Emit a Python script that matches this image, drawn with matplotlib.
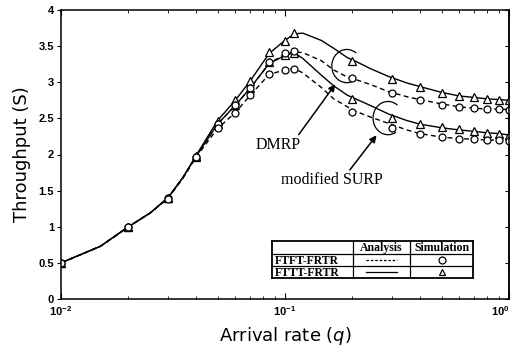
import matplotlib
matplotlib.use("Agg")
import matplotlib.pyplot as plt
import matplotlib.ticker as ticker
from matplotlib.patches import Arc
from matplotlib.lines import Line2D

# simulation points
sim_q = [0.01, 0.02, 0.03, 0.04, 0.05, 0.06, 0.07, 0.085, 0.1, 0.11,
         0.2, 0.3, 0.4, 0.5, 0.6, 0.7, 0.8, 0.9, 1.0]
sim_dmrp_fttt = [0.5, 1.0, 1.4, 1.98, 2.47, 2.75, 3.02, 3.42, 3.57, 3.68,
                 3.30, 3.05, 2.94, 2.85, 2.81, 2.79, 2.77, 2.76, 2.75]
sim_dmrp_ftft = [0.5, 1.0, 1.4, 1.97, 2.42, 2.68, 2.92, 3.28, 3.40, 3.43,
                 3.06, 2.85, 2.76, 2.69, 2.66, 2.64, 2.63, 2.63, 2.62]
sim_surp_fttt = [0.5, 1.0, 1.4, 1.97, 2.42, 2.68, 2.92, 3.28, 3.38, 3.41,
                 2.77, 2.51, 2.42, 2.38, 2.35, 2.32, 2.30, 2.29, 2.27]
sim_surp_ftft = [0.5, 1.0, 1.39, 1.96, 2.36, 2.58, 2.82, 3.12, 3.17, 3.19,
                 2.59, 2.37, 2.29, 2.24, 2.22, 2.21, 2.20, 2.20, 2.19]

# analysis curves
an_q = [0.01, 0.015, 0.02, 0.025, 0.03, 0.035, 0.04, 0.05, 0.06, 0.07, 0.085,
        0.1, 0.11, 0.12, 0.145, 0.165, 0.19, 0.21, 0.24, 0.29, 0.35, 0.4,
        0.5, 0.6, 0.7, 0.8, 0.9, 1.0]
an_dmrp_fttt = [0.5, 0.73, 1.0, 1.19, 1.4, 1.68, 1.98, 2.47, 2.75, 3.02, 3.40,
                3.58, 3.67, 3.68, 3.58, 3.47, 3.34, 3.28, 3.19, 3.08, 2.99, 2.94,
                2.86, 2.81, 2.79, 2.77, 2.76, 2.75]
an_dmrp_ftft = [0.5, 0.73, 1.0, 1.19, 1.4, 1.68, 1.97, 2.42, 2.68, 2.92, 3.26,
                3.39, 3.42, 3.41, 3.30, 3.17, 3.07, 3.03, 2.97, 2.87, 2.80, 2.76,
                2.70, 2.66, 2.64, 2.63, 2.63, 2.62]
an_surp_fttt = [0.5, 0.73, 1.0, 1.19, 1.4, 1.68, 1.97, 2.42, 2.68, 2.92, 3.26,
                3.37, 3.41, 3.33, 3.10, 2.95, 2.82, 2.76, 2.68, 2.56, 2.47, 2.42,
                2.37, 2.34, 2.32, 2.30, 2.29, 2.27]
an_surp_ftft = [0.5, 0.73, 1.0, 1.19, 1.39, 1.67, 1.96, 2.36, 2.58, 2.82, 3.11,
                3.17, 3.19, 3.13, 2.93, 2.77, 2.66, 2.59, 2.52, 2.43, 2.34, 2.29,
                2.24, 2.22, 2.21, 2.20, 2.20, 2.19]

yticks = [0, 0.5, 1, 1.5, 2, 2.5, 3, 3.5, 4]
xticks = [0.01, 0.1, 1.0]
xticklabels = [r"$\mathdefault{10^{-2}}$", r"$\mathdefault{10^{-1}}$", r"$\mathdefault{10^{0}}$"]

dash = (3.5, 2.5)
serif = "Liberation Serif"
sans = "Liberation Sans"

fig = plt.figure(figsize=(5.11, 3.54), dpi=100)
ax = fig.add_axes([61/511, 55/354, 448/511, 289/354])

ax.plot(an_q, an_dmrp_fttt, color="k", lw=1.0)
ax.plot(an_q, an_surp_fttt, color="k", lw=1.0)
ax.plot(an_q, an_dmrp_ftft, color="k", lw=1.0, dashes=dash)
ax.plot(an_q, an_surp_ftft, color="k", lw=1.0, dashes=dash)

for ys in (sim_dmrp_fttt, sim_surp_fttt):
    ax.plot(sim_q, ys, ls="none", marker="^", ms=5.5, mfc="white", mec="k", mew=0.9)
for ys in (sim_dmrp_ftft, sim_surp_ftft):
    ax.plot(sim_q, ys, ls="none", marker="o", ms=5, mfc="white", mec="k", mew=0.9)

ax.set_xscale("log")
ax.set_xlim(0.01, 1.0)
ax.set_ylim(0, 4)
ax.set_yticks(yticks)
ax.yaxis.set_major_formatter(ticker.FormatStrFormatter("%g"))
ax.set_xticks(xticks, xticklabels)
ax.xaxis.set_minor_locator(ticker.LogLocator(base=10, subs=range(2, 10)))
ax.xaxis.set_minor_formatter(ticker.NullFormatter())

for s in ax.spines.values():
    s.set_linewidth(1.1)

ax.tick_params(axis="x", which="both", direction="in", top=True, labelsize=8, pad=4)
ax.tick_params(axis="x", which="major", length=4)
ax.tick_params(axis="x", which="minor", length=2.5)
ax.tick_params(axis="y", direction="out", length=3, labelsize=8, pad=2)
for lab in ax.get_xticklabels() + ax.get_yticklabels():
    lab.set_fontweight("bold")
    lab.set_family(sans)
ax.get_xticklabels()[-1].set_horizontalalignment("right")

sec = ax.secondary_yaxis("right")
sec.set_yticks(yticks)
sec.tick_params(direction="in", length=3, labelright=False)
sec.spines["right"].set_linewidth(1.1)

ax.set_ylabel("Throughput (S)", family="DejaVu Sans", fontsize=13, labelpad=5)
ax.set_xlabel("Arrival rate ($q$)", family="DejaVu Sans", fontsize=13, labelpad=5)

# annotations
ax.add_patch(Arc((0.638, 0.806), 0.067, 0.115, theta1=65, theta2=290,
                 transform=ax.transAxes, color="k", lw=0.9))
ax.add_patch(Arc((0.730, 0.626), 0.067, 0.115, theta1=65, theta2=290,
                 transform=ax.transAxes, color="k", lw=0.9))
ax.annotate("", xy=(0.616, 0.751), xytext=(0.527, 0.561), xycoords="axes fraction",
            arrowprops=dict(arrowstyle="-|>", color="k", lw=1.1, mutation_scale=10))
ax.annotate("", xy=(0.708, 0.574), xytext=(0.641, 0.439), xycoords="axes fraction",
            arrowprops=dict(arrowstyle="-|>", color="k", lw=1.1, mutation_scale=10))
ax.text(0.484, 0.533, "DMRP", transform=ax.transAxes, family=serif, fontsize=11.5,
        ha="center", va="center")
ax.text(0.605, 0.412, "modified SURP", transform=ax.transAxes, family=serif,
        fontsize=11.5, ha="center", va="center")

# legend table
tb = fig.add_axes([272/511, (354-278)/354, 201/511, 37/354])
tb.set_xlim(0, 1)
tb.set_ylim(0, 1)
tb.axis("off")
c1, c2 = 0.403, 0.687
r1, r2 = 0.65, 0.32
for x in (0, 1):
    tb.add_line(Line2D([x, x], [0, 1], color="k", lw=1.3, clip_on=False))
for y in (0, 1):
    tb.add_line(Line2D([0, 1], [y, y], color="k", lw=1.3, clip_on=False))
for x in (c1, c2):
    tb.add_line(Line2D([x, x], [0, 1], color="k", lw=0.9))
for y in (r1, r2):
    tb.add_line(Line2D([0, 1], [y, y], color="k", lw=0.9))
tkw = dict(family=serif, fontsize=8.5, fontweight="bold", va="center")
tb.text((c1+c2)/2, (r1+1)/2 - 0.02, "Analysis", ha="center", **tkw)
tb.text((c2+1)/2, (r1+1)/2 - 0.02, "Simulation", ha="center", **tkw)
tb.text(0.015, (r2+r1)/2 - 0.02, "FTFT-FRTR", ha="left", **tkw)
tb.text(0.015, r2/2 - 0.02, "FTTT-FRTR", ha="left", **tkw)
tb.plot([0.47, 0.62], [(r2+r1)/2]*2, color="k", lw=0.9, dashes=(2, 1.5))
tb.plot([0.47, 0.62], [r2/2]*2, color="k", lw=0.9)
tb.plot([(c2+1)/2], [(r2+r1)/2], marker="o", ms=5, mfc="white", mec="k", mew=0.9)
tb.plot([(c2+1)/2], [r2/2], marker="^", ms=5, mfc="white", mec="k", mew=0.9)

fig.savefig("out.png", dpi=100)
